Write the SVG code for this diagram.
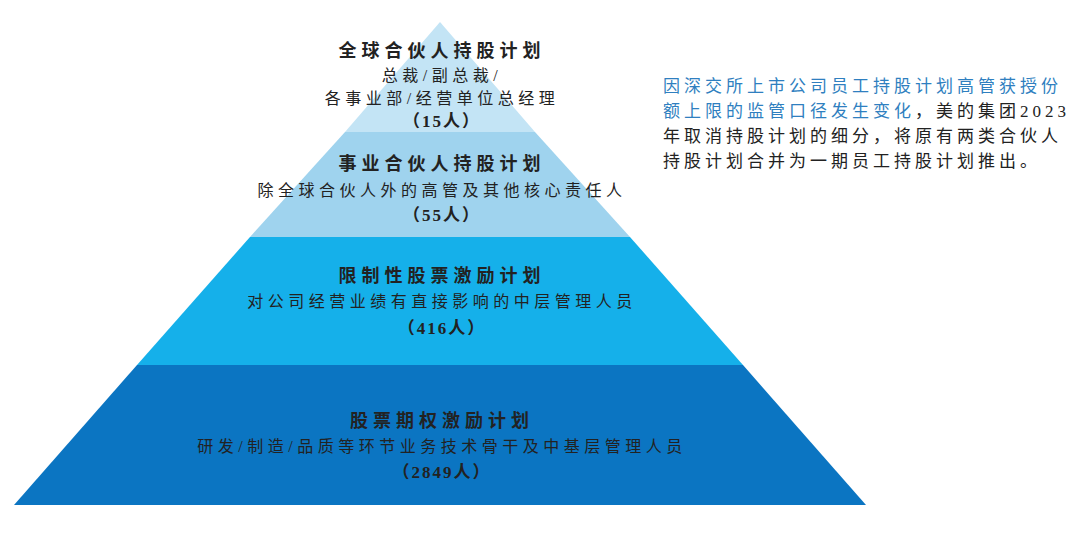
<svg xmlns="http://www.w3.org/2000/svg" width="1080" height="542" viewBox="0 0 1080 542">
<style>
text{font-family:"Liberation Serif","Noto Sans CJK SC",serif;fill:#222;text-anchor:middle}
.t{font-size:18px;font-weight:bold;letter-spacing:5px}
.s{font-size:16px;letter-spacing:4.5px}
.n{font-size:17px;font-weight:bold;letter-spacing:2px}
.r{font-size:17px;letter-spacing:4px;text-anchor:start}
.b{fill:#2f7fc0}
</style>
<rect width="1080" height="542" fill="#fff"/>
<g id="tier1"><polygon points="440,22 345,132 535,132" fill="#c3e4f5"/>
<text class="t" x="442" y="57">全球合伙人持股计划</text>
<text class="s" x="442" y="81">总裁/副总裁/</text>
<text class="s" x="442" y="104">各事业部/经营单位总经理</text>
<text class="n" x="442" y="127">（15人）</text></g>
<g id="tier2"><polygon points="345,132 535,132 630,237 250,237" fill="#9fd3ee"/>
<text class="t" x="442" y="170">事业合伙人持股计划</text>
<text class="s" x="442" y="196">除全球合伙人外的高管及其他核心责任人</text>
<text class="n" x="442" y="221">（55人）</text></g>
<g id="tier3"><polygon points="250,237 630,237 743,365 137,365" fill="#15b0ea"/>
<text class="t" x="442" y="282">限制性股票激励计划</text>
<text class="s" x="442" y="307">对公司经营业绩有直接影响的中层管理人员</text>
<text class="n" x="442" y="334">（416人）</text></g>
<g id="tier4"><polygon points="137,365 743,365 866,505 14,505" fill="#0b75c2"/>
<text class="t" x="442" y="427">股票期权激励计划</text>
<text class="s" x="442" y="452">研发/制造/品质等环节业务技术骨干及中基层管理人员</text>
<text class="n" x="442" y="478">（2849人）</text></g>
<g id="note">
<text class="r" x="663" y="92"><tspan class="b">因深交所上市公司员工持股计划高管获授份</tspan></text>
<text class="r" x="663" y="117"><tspan class="b">额上限的监管口径发生变化</tspan>，美的集团2023</text>
<text class="r" x="663" y="142">年取消持股计划的细分，将原有两类合伙人</text>
<text class="r" x="663" y="167">持股计划合并为一期员工持股计划推出。</text>
</g>
<g id="connectors"/>
</svg>
